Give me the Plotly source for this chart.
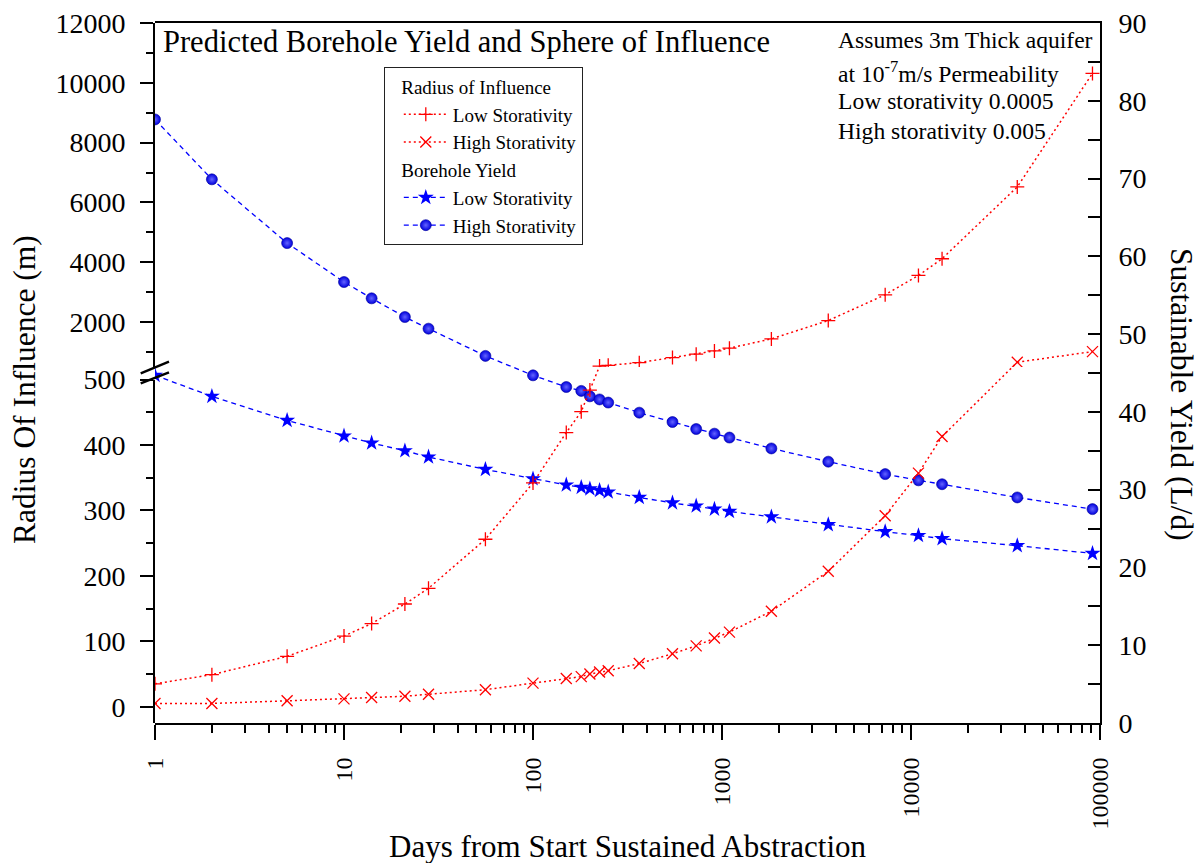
import plotly.graph_objects as go

# ---------------- data ----------------
days = [1, 2, 5, 10, 14, 21, 28, 56, 100, 150, 180, 200, 225, 250, 365, 547,
        730, 912, 1095, 1825, 3650, 7300, 10950, 14600, 36500, 91250]

radius_low = [35, 49, 77, 108, 127, 157, 181, 256, 342, 419, 451, 484, 530, 555,
              646, 814, 928, 1038, 1129, 1440, 2053, 2914, 3560, 4119, 6520, 10315]
radius_high = [5, 5, 9, 12, 14, 16, 19, 26, 36, 43, 46, 50, 53, 55,
               66, 81, 93, 105, 114, 146, 207, 292, 357, 413, 660, 1015]

yield_low = [44.7, 42.0, 38.9, 36.9, 36.0, 35.0, 34.2, 32.6, 31.4, 30.6, 30.3, 30.1, 29.9,
             29.7, 29.0, 28.3, 27.9, 27.5, 27.2, 26.5, 25.5, 24.6, 24.1, 23.7, 22.8, 21.8]
yield_high = [77.6, 69.9, 61.7, 56.7, 54.6, 52.2, 50.7, 47.2, 44.7, 43.2, 42.7, 42.0, 41.6,
              41.2, 39.9, 38.7, 37.8, 37.2, 36.7, 35.3, 33.6, 32.0, 31.2, 30.7, 29.0, 27.5]

x_tickvals = [1, 10, 100, 1000, 10000, 100000]
x_ticktext = ["1", "10", "100", "1000", "10000", "100000"]
lower_ticks = [0, 100, 200, 300, 400, 500]
upper_ticks = [2000, 4000, 6000, 8000, 10000, 12000]
BREAK = 500

# ---------------- layout geometry ----------------
W, H = 1202, 863
L, R, T, B = 155, 1100, 23, 723   # plot area in pixels
PW, PH = R - L, B - T


def px(x):
    return (x - L) / PW


def py(y):
    return (B - y) / PH


LOW_RANGE = [-24.9, BREAK]
UP_RANGE = [BREAK, 12000]
RIGHT_RANGE = [0, 90]
LOW_DOM = [0, py(379.6)]
UP_DOM = [py(367), 1]


def to_screen(v, rng, dom):
    frac = (v - rng[0]) / (rng[1] - rng[0])
    return B - (dom[0] + frac * (dom[1] - dom[0])) * PH


def screen_to_right(ys):
    return RIGHT_RANGE[0] + (B - ys) / PH * (RIGHT_RANGE[1] - RIGHT_RANGE[0])


FONT = "Liberation Serif, Times New Roman, serif"
RED = "#ff0000"
BLUE = "#0000ff"
RED_DASH = "2px,3px"
BLUE_DASH = "5px,4px"
LEG_FONT = 19

fig = go.Figure()


def add_broken(xs, ys, name, symbol, size, group, gtitle=None):
    lo = [(x, y) for x, y in zip(xs, ys) if y <= BREAK]
    hi = [(x, y) for x, y in zip(xs, ys) if y > BREAK]
    line = dict(color=RED, width=1.5, dash=RED_DASH)
    marker = dict(symbol=symbol, size=size, color=RED, line=dict(color=RED, width=1.3))
    kw = {}
    if gtitle:
        kw["legendgrouptitle"] = dict(text="\u2009\u2009\u2009" + gtitle,
                                      font=dict(family=FONT, size=LEG_FONT, color="black"))
    if lo and hi:
        # straight screen-space connector across the axis break (drawn on full-height axis)
        s0 = to_screen(lo[-1][1], LOW_RANGE, LOW_DOM)
        s1 = to_screen(hi[0][1], UP_RANGE, UP_DOM)
        fig.add_trace(go.Scatter(x=[lo[-1][0], hi[0][0]],
                                 y=[screen_to_right(s0), screen_to_right(s1)],
                                 yaxis="y", mode="lines", line=line,
                                 legendgroup=group, showlegend=False, hoverinfo="skip"))
    if lo:
        fig.add_trace(go.Scatter(x=[p[0] for p in lo], y=[p[1] for p in lo], yaxis="y2",
                                 mode="lines+markers", name=name, line=line, marker=marker,
                                 legendgroup=group, showlegend=True, **kw))
    if hi:
        fig.add_trace(go.Scatter(x=[p[0] for p in hi], y=[p[1] for p in hi], yaxis="y3",
                                 mode="lines+markers", name=name, line=line, marker=marker,
                                 legendgroup=group, showlegend=False))


add_broken(days, radius_low, "Low Storativity", "cross-thin", 10, "radius", "Radius of Influence")
add_broken(days, radius_high, "High Storativity", "x-thin", 11, "radius")

fig.add_trace(go.Scatter(
    x=days, y=yield_low, yaxis="y", mode="lines+markers", name="Low Storativity",
    line=dict(color=BLUE, width=1.3, dash=BLUE_DASH),
    marker=dict(symbol="star", size=12, color=BLUE, line=dict(width=0)),
    legendgroup="yield",
    legendgrouptitle=dict(text="\u2009\u2009\u2009Borehole Yield",
                          font=dict(family=FONT, size=LEG_FONT, color="black"))))
fig.add_trace(go.Scatter(
    x=days, y=yield_high, yaxis="y", mode="lines+markers", name="High Storativity",
    line=dict(color=BLUE, width=1.3, dash=BLUE_DASH),
    marker=dict(symbol="circle", size=11, color="#0000dd",
                gradient=dict(type="radial", color="#6464ff"),
                line=dict(width=0.6, color="#00009a")),
    legendgroup="yield"))

axis_common = dict(showgrid=False, zeroline=False, showline=True, linecolor="black",
                   linewidth=2, tickcolor="black", tickwidth=2,
                   tickfont=dict(family=FONT, size=28, color="black"))

minor_x = [m * 10 ** k for k in range(5) for m in range(2, 10)]

fig.update_layout(
    width=W, height=H,
    margin=dict(l=L, r=W - R, t=T, b=H - B, autoexpand=False),
    paper_bgcolor="white", plot_bgcolor="rgba(0,0,0,0)",
    font=dict(family=FONT, color="black"),
    showlegend=True,
    legend=dict(x=px(383.5), y=py(66.5), xanchor="left", yanchor="top",
                bgcolor="white", bordercolor="#222", borderwidth=1.3,
                font=dict(family=FONT, size=LEG_FONT, color="black"),
                tracegroupgap=0, traceorder="grouped", indentation=14, itemwidth=44),
    xaxis=dict(type="log", range=[0, 5], anchor="y", mirror=True,
               ticks="outside", ticklen=15,
               tickvals=x_tickvals, ticktext=x_ticktext, tickangle=-90,
               ticklabelstandoff=8,
               minor=dict(ticks="outside", ticklen=8, tickwidth=2, tickcolor="black",
                          tickvals=minor_x, showgrid=False),
               **{**axis_common, "tickfont": dict(family=FONT, size=24, color="black")}),
    yaxis=dict(domain=[0, 1], range=RIGHT_RANGE, side="right", anchor="x",
               ticks="inside", ticklen=12, dtick=10, tick0=0,
               ticklabelstandoff=11,
               minor=dict(ticks="inside", ticklen=12, tickwidth=2, tickcolor="black", dtick=5),
               **axis_common),
    yaxis2=dict(domain=LOW_DOM, range=LOW_RANGE, side="left", anchor="x",
                ticks="outside", ticklen=13, tickvals=lower_ticks, tickformat="d",
                ticklabelstandoff=9,
                minor=dict(ticks="outside", ticklen=7, tickwidth=2, tickcolor="black", dtick=50),
                **axis_common),
    yaxis3=dict(domain=UP_DOM, range=UP_RANGE, side="left", anchor="x",
                ticks="outside", ticklen=13, tickvals=upper_ticks,
                ticktext=[str(v) for v in upper_ticks],
                ticklabelstandoff=9,
                minor=dict(ticks="outside", ticklen=7, tickwidth=2, tickcolor="black",
                           tickvals=[1000, 3000, 5000, 7000, 9000, 11000]),
                **axis_common),
)

# axis break marks on the left axis
for (x0, y0, x1, y1) in [(140.7, 373.3, 169, 361.7), (140.7, 383.3, 169, 372.3)]:
    fig.add_shape(type="line", xref="paper", yref="paper",
                  x0=px(x0), y0=py(y0), x1=px(x1), y1=py(y1),
                  line=dict(color="black", width=2.5))

ann = []
ann.append(dict(text="Predicted Borehole Yield and Sphere of Influence", x=px(161), y=py(42),
                xanchor="left", yanchor="middle", font=dict(size=30.5)))
for txt, yc in [("Assumes 3m Thick aquifer", 40),
                ("at 10<sup>-7</sup>m/s Permeability", 72),
                ("Low storativity 0.0005", 101),
                ("High storativity 0.005", 131)]:
    ann.append(dict(text=txt, x=px(836), y=py(yc), xanchor="left", yanchor="middle",
                    font=dict(size=23.6)))
ann.append(dict(text="Radius Of Influence (m)", x=px(25), y=py(390), textangle=-90,
                xanchor="center", yanchor="middle", font=dict(size=31.5)))
ann.append(dict(text="Sustainable Yield (L/d)", x=px(1182), y=py(394), textangle=90,
                xanchor="center", yanchor="middle", font=dict(size=31.5)))
ann.append(dict(text="Days from Start Sustained Abstraction", x=px(627), y=py(846),
                xanchor="center", yanchor="middle", font=dict(size=31)))
for a in ann:
    a.update(xref="paper", yref="paper", showarrow=False)
    a["font"] = dict(family=FONT, color="black", **a["font"])
fig.update_layout(annotations=ann)

fig.write_html("out.html", config={"displayModeBar": False},
               post_script="document.body.style.margin='0px';document.body.style.padding='0px';")
